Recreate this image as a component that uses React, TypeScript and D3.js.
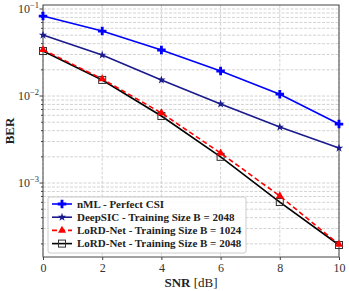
import React, { useRef, useEffect } from "react";
import * as d3 from "d3";

const snr = [0, 2, 4, 6, 8, 10];
const nml = [0.083, 0.0558, 0.0338, 0.0194, 0.0105, 0.00476];
const deepsic = [0.0502, 0.0296, 0.0153, 0.0081, 0.0044, 0.00252];
const lord1024 = [0.034, 0.0157, 0.00638, 0.00221, 0.00071, 0.000197];
const lord2048 = [0.0329, 0.0153, 0.00589, 0.002, 0.000605, 0.000194];
const legendLabels = [
  "nML - Perfect CSI",
  "DeepSIC - Training Size B = 2048",
  "LoRD-Net - Training Size B = 1024",
  "LoRD-Net - Training Size B = 2048",
];

const App = () => {
  const ref = useRef(null);

  useEffect(() => {
    document.body.style.margin = "0";
    document.body.style.overflow = "hidden";

    const width = 349;
    const height = 291;
    const m = { left: 43, right: 10, top: 5, bottom: 34 };
    const font = "'Liberation Serif', serif";

    const root = d3.select(ref.current);
    root.selectAll("*").remove();
    const svg = root
      .append("svg")
      .attr("width", width)
      .attr("height", height)
      .style("display", "block");

    svg.append("rect").attr("width", width).attr("height", height).attr("fill", "white");

    const x = d3.scaleLinear().domain([0, 10]).range([m.left, width - m.right]);
    const y = d3
      .scaleLog()
      .domain([Math.pow(10, -3.85), Math.pow(10, -0.954)])
      .range([height - m.bottom, m.top]);

    const g = svg.append("g");

    // grid
    const minor: number[] = [];
    for (let e = -4; e <= -1; e++) {
      for (let k = 1; k <= 9; k++) {
        const v = k * Math.pow(10, e);
        if (v >= y.domain()[0] && v <= y.domain()[1]) minor.push(v);
      }
    }
    g.selectAll(".hg")
      .data(minor)
      .enter()
      .append("line")
      .attr("x1", m.left)
      .attr("x2", width - m.right)
      .attr("y1", (d) => y(d))
      .attr("y2", (d) => y(d))
      .attr("stroke", "#c8c8c8")
      .attr("stroke-width", 0.8)
      .attr("stroke-dasharray", "3,1.5");
    g.selectAll(".vg")
      .data(snr)
      .enter()
      .append("line")
      .attr("x1", (d) => x(d))
      .attr("x2", (d) => x(d))
      .attr("y1", m.top)
      .attr("y2", height - m.bottom)
      .attr("stroke", "#c8c8c8")
      .attr("stroke-width", 0.8)
      .attr("stroke-dasharray", "3,1.5");

    // frame
    g.append("rect")
      .attr("x", m.left)
      .attr("y", m.top)
      .attr("width", width - m.left - m.right)
      .attr("height", height - m.top - m.bottom)
      .attr("fill", "none")
      .attr("stroke", "#444")
      .attr("stroke-width", 1);

    // x axis
    const xAxis = g
      .append("g")
      .attr("transform", `translate(0,${height - m.bottom})`)
      .call(d3.axisBottom(x).tickValues(snr).tickSize(3).tickPadding(3));
    xAxis.select(".domain").remove();
    xAxis.selectAll("line").attr("stroke", "#444");
    xAxis.selectAll("text").attr("font-family", font).attr("font-size", 12).attr("fill", "#333");

    // y axis ticks
    const yt = g.append("g");
    yt.selectAll("line")
      .data(minor)
      .enter()
      .append("line")
      .attr("x1", m.left)
      .attr("x2", (d) => m.left - ([0.1, 0.01, 0.001].some((v) => Math.abs(d - v) < v * 1e-6) ? 3.5 : 2))
      .attr("y1", (d) => y(d))
      .attr("y2", (d) => y(d))
      .attr("stroke", "#444");
    [-1, -2, -3].forEach((e) => {
      const t = yt
        .append("text")
        .attr("x", m.left - 4)
        .attr("y", y(Math.pow(10, e)) + 4)
        .attr("text-anchor", "end")
        .attr("font-family", font)
        .attr("font-size", 12)
        .attr("fill", "#333");
      t.append("tspan").text("10");
      t.append("tspan").attr("dy", -5).attr("font-size", 8.5).text(`\u2212${-e}`);
    });

    // labels
    const xl = svg
      .append("text")
      .attr("x", (m.left + width - m.right) / 2)
      .attr("y", height - 4)
      .attr("text-anchor", "middle")
      .attr("font-family", font)
      .attr("font-size", 13)
      .attr("fill", "#222");
    xl.append("tspan").attr("font-weight", "bold").text("SNR");
    xl.append("tspan").text(" [dB]");
    svg
      .append("text")
      .attr("transform", `translate(14,${(m.top + height - m.bottom) / 2}) rotate(-90)`)
      .attr("text-anchor", "middle")
      .attr("font-family", font)
      .attr("font-size", 13)
      .attr("font-weight", "bold")
      .attr("fill", "#222")
      .text("BER");

    const series = [
      { vals: nml, color: "#0000ff", dash: null, marker: "plus" },
      { vals: deepsic, color: "#1a1a8c", dash: null, marker: "star" },
      { vals: lord1024, color: "#ff0000", dash: "5,3", marker: "tri" },
      { vals: lord2048, color: "#000000", dash: null, marker: "square" },
    ];

    const drawMarker = (sel, type, color, cx, cy) => {
      if (type === "plus") {
        sel.append("path")
          .attr("d", d3.symbol(d3.symbolCross, 40)())
          .attr("transform", `translate(${cx},${cy})`)
          .attr("fill", color);
      } else if (type === "star") {
        sel.append("path")
          .attr("d", d3.symbol(d3.symbolStar, 22)())
          .attr("transform", `translate(${cx},${cy})`)
          .attr("fill", color);
      } else if (type === "tri") {
        sel.append("path")
          .attr("d", d3.symbol(d3.symbolTriangle, 28)())
          .attr("transform", `translate(${cx},${cy})`)
          .attr("fill", color);
      } else {
        sel.append("rect")
          .attr("x", cx - 3.5)
          .attr("y", cy - 3.5)
          .attr("width", 7)
          .attr("height", 7)
          .attr("fill", "none")
          .attr("stroke", "#333")
          .attr("stroke-width", 1);
      }
    };

    const line = d3
      .line<number>()
      .x((d, i) => x(snr[i]))
      .y((d) => y(d));

    // red dashed drawn over the black line
    const order = [0, 1, 3, 2];
    order.forEach((i) => {
      const s = series[i];
      g.append("path")
        .attr("d", line(s.vals))
        .attr("fill", "none")
        .attr("stroke", s.color)
        .attr("stroke-width", 1.6)
        .attr("stroke-dasharray", s.dash);
      s.vals.forEach((v, j) => drawMarker(g, s.marker, s.color, x(snr[j]), y(v)));
    });

    // legend
    const lg = svg.append("g");
    lg.append("rect")
      .attr("x", 48)
      .attr("y", 197)
      .attr("width", 198)
      .attr("height", 56)
      .attr("rx", 2)
      .attr("fill", "white")
      .attr("fill-opacity", 0.85)
      .attr("stroke", "#ccc");
    series.forEach((s, i) => {
      const yy = 204 + i * 13.2;
      lg.append("line")
        .attr("x1", 52)
        .attr("x2", 72)
        .attr("y1", yy)
        .attr("y2", yy)
        .attr("stroke", s.color)
        .attr("stroke-width", 1.6)
        .attr("stroke-dasharray", s.dash);
      drawMarker(lg, s.marker, s.color, 62, yy);
      lg.append("text")
        .attr("x", 77)
        .attr("y", yy + 3.5)
        .attr("font-family", font)
        .attr("font-size", 11)
        .attr("font-weight", "bold")
        .attr("fill", "#222")
        .text(legendLabels[i]);
    });

    return () => {
      root.selectAll("*").remove();
    };
  }, []);

  return <div ref={ref}></div>;
};

export default App;
